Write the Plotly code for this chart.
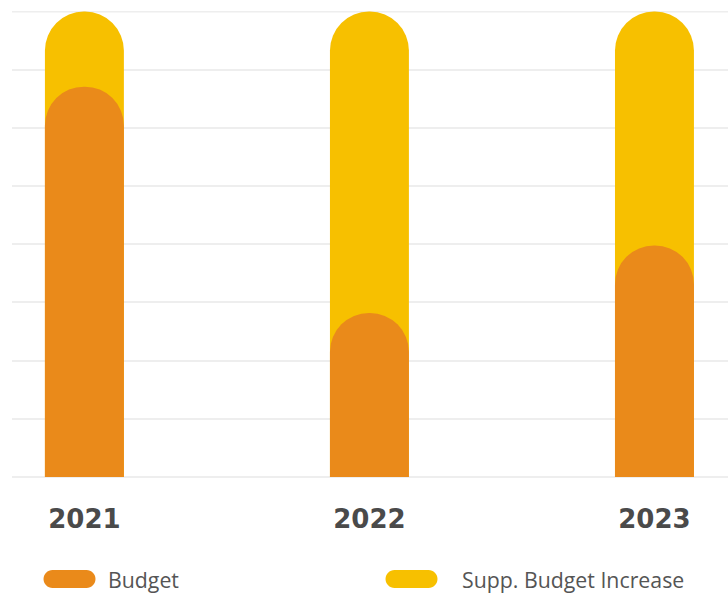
import plotly.graph_objects as go

years = ["2021", "2022", "2023"]
budget = [6.71, 2.82, 3.98]
supp_increase = [1.29, 5.18, 4.02]
legend_labels = ["Budget", "Supp. Budget Increase"]

ORANGE = "#EA8A1A"
YELLOW = "#F7C000"
GRID = "#EEEEEE"
TEXT = "#4A4A4A"

total = [b + s for b, s in zip(budget, supp_increase)]

fig = go.Figure()
fig.add_trace(go.Bar(x=years, y=total, marker=dict(color=YELLOW, line=dict(width=0), cornerradius="50%"),
                     width=0.277, name=legend_labels[1], showlegend=False, hoverinfo="skip",
                     xaxis="x", yaxis="y"))
fig.add_trace(go.Bar(x=years, y=budget, marker=dict(color=ORANGE, line=dict(width=0), cornerradius="50%"),
                     width=0.277, name=legend_labels[0], showlegend=False, hoverinfo="skip",
                     xaxis="x2", yaxis="y"))

W, H = 728, 594
ml, mr, mt, mb = 12, 0, 11, 117
pw, ph = W - ml - mr, H - mt - mb

def px2paper_x(px):
    return (px - ml) / pw

def py2paper_y(py):
    return (H - mb - py) / ph

def pill_path(w, h):
    r = h / 2
    k = 0.5523 * r
    a = w / 2 - r
    return (f"M {-a},{-r} L {a},{-r} C {a + k},{-r} {a + r},{-k} {a + r},0 "
            f"C {a + r},{k} {a + k},{r} {a},{r} L {-a},{r} "
            f"C {-a - k},{r} {-a - r},{k} {-a - r},0 C {-a - r},{-k} {-a - k},{-r} {-a},{-r} Z")

y_max = 8
shapes = [dict(type="line", xref="paper", yref="y", x0=0, x1=1, y0=y_max, y1=y_max,
               line=dict(color=GRID, width=2), layer="below")]
annotations = []
legend_items = [
    (legend_labels[0], ORANGE, 69.5, 106),
    (legend_labels[1], YELLOW, 411.5, 460),
]
for label, color, cx, tx in legend_items:
    shapes.append(dict(type="path", xref="paper", yref="paper", xsizemode="pixel", ysizemode="pixel",
                       xanchor=px2paper_x(cx), yanchor=py2paper_y(579), path=pill_path(52, 18),
                       fillcolor=color, line=dict(width=0)))
    annotations.append(dict(x=px2paper_x(tx), y=py2paper_y(579), xref="paper", yref="paper",
                            text=label, showarrow=False, xanchor="left", yanchor="middle",
                            font=dict(family="Open Sans", size=21.3, color="#555555")))

xrange_ = [-0.254, 2.258]
fig.update_layout(
    width=W, height=H,
    margin=dict(l=ml, r=mr, t=mt, b=mb, pad=0),
    paper_bgcolor="white", plot_bgcolor="white",
    barmode="overlay",
    showlegend=False,
    shapes=shapes,
    annotations=annotations,
    xaxis=dict(type="category", range=xrange_, showgrid=False, zeroline=False,
               showline=False, ticks="", ticklabelstandoff=24,
               tickfont=dict(family="DejaVu Sans", size=26, color=TEXT, weight="bold")),
    xaxis2=dict(type="category", range=xrange_, overlaying="x", matches="x", visible=False),
    yaxis=dict(range=[0, 8.01], dtick=1, showgrid=True, gridcolor=GRID, gridwidth=2,
               zeroline=True, zerolinecolor=GRID, zerolinewidth=2,
               showticklabels=False, ticks="", showline=False),
)

fig.write_html("out.html")
